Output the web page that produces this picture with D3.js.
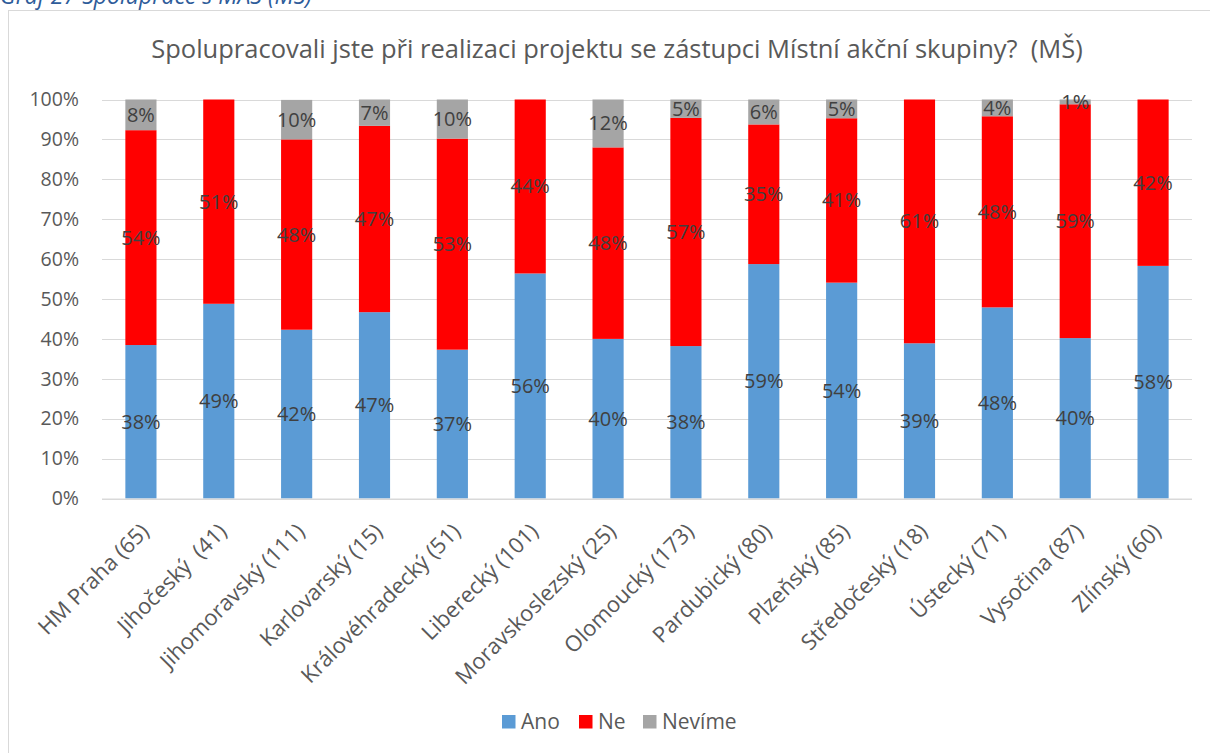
<!DOCTYPE html>
<html>
<head>
<meta charset="utf-8">
<script src="https://cdn.jsdelivr.net/npm/d3@7"></script>
<style>
html,body{margin:0;padding:0;background:#fff;}
svg{display:block;}
</style>
</head>
<body>
<svg id="chart" width="1210" height="753"></svg>
<script>
const categories = ["HM Praha (65)","Jihočeský  (41)","Jihomoravský (111)","Karlovarský (15)","Královéhradecký (51)","Liberecký (101)","Moravskoslezský (25)","Olomoucký (173)","Pardubický (80)","Plzeňský (85)","Středočeský (18)","Ústecký (71)","Vysočina (87)","Zlínský (60)"];
const ano    = [38.46, 48.8, 42.3, 46.7, 37.3, 56.4, 40.0, 38.2, 58.75, 54.1, 38.9, 47.9, 40.2, 58.3];
const ne     = [53.85, 51.2, 47.7, 46.7, 52.9, 43.6, 48.0, 57.2, 35.0, 41.2, 61.1, 47.9, 58.6, 41.7];
const nevime = [7.69, 0, 9.9, 6.6, 9.8, 0, 12.0, 4.6, 6.25, 4.7, 0, 4.2, 1.2, 0];
const seriesNames = ["Ano","Ne","Nevíme"];
const colors = ["#5B9BD5","#FF0000","#A5A5A5"];
const yTicks = [0,10,20,30,40,50,60,70,80,90,100];
const titleText = "Spolupracovali jste při realizaci projektu se zástupci Místní akční skupiny?  (MŠ)";
const captionText = "Graf 27 Spolupráce s MAS (MŠ)";

const FONT = "'Open Sans', 'DejaVu Sans', sans-serif";
const svg = d3.select("#chart");

// caption (cut at the top)
svg.append("text").attr("x", 0).attr("y", 4)
  .attr("font-family", FONT).attr("font-style", "italic")
  .attr("font-size", 23).attr("fill", "#2E5C9A").text(captionText);

// chart frame
svg.append("rect").attr("x", 8.5).attr("y", 10.5).attr("width", 1205).attr("height", 750)
  .attr("fill", "none").attr("stroke", "#D9D9D9").attr("stroke-width", 1);

// title
svg.append("text").attr("x", 617).attr("y", 58).attr("text-anchor", "middle")
  .style("white-space", "pre")
  .attr("font-family", FONT).attr("font-size", 25.5).attr("fill", "#595959").text(titleText);

const x = d3.scaleBand().domain(categories).range([102, 1192]).paddingInner(0.6).paddingOuter(0.3);
const y = d3.scaleLinear().domain([0, 100]).range([498.5, 99.5]);

// gridlines
svg.append("g").selectAll("line").data(yTicks).join("line")
  .attr("x1", 102).attr("x2", 1192)
  .attr("y1", d => Math.round(y(d)) + 0.5).attr("y2", d => Math.round(y(d)) + 0.5)
  .attr("stroke", "#D9D9D9").attr("stroke-width", 1.2);

// y axis labels
const yAxis = d3.axisLeft(y).tickValues(yTicks).tickFormat(d => d + "%").tickSize(0).tickPadding(0);
const gy = svg.append("g").attr("transform", "translate(79,0)").call(yAxis);
gy.select(".domain").remove();
gy.selectAll("text").attr("font-family", FONT).attr("font-size", 19.5).attr("fill", "#595959");

// stacked data
const rows = categories.map((c, i) => ({cat: c, Ano: ano[i], Ne: ne[i], "Nevíme": nevime[i]}));
const stack = d3.stack().keys(seriesNames)(rows);

const layers = svg.append("g").selectAll("g").data(stack).join("g")
  .attr("fill", (d, i) => colors[i]);
layers.selectAll("rect").data(d => d).join("rect")
  .attr("x", d => x(d.data.cat))
  .attr("width", x.bandwidth())
  .attr("y", d => y(d[1]))
  .attr("height", d => Math.max(0, y(d[0]) - y(d[1])));

// data labels
const labelsG = svg.append("g");
stack.forEach((layer, si) => {
  layer.forEach(d => {
    const v = d.data[layer.key];
    if (v <= 0) return;
    labelsG.append("text")
      .attr("x", x(d.data.cat) + x.bandwidth() / 2)
      .attr("y", y((d[0] + d[1]) / 2))
      .attr("dy", "0.35em")
      .attr("text-anchor", "middle")
      .attr("font-family", FONT).attr("font-size", 20).attr("fill", "#404040")
      .text(Math.round(v) + "%");
  });
});

// x axis labels
const xAxis = d3.axisBottom(x).tickSize(0).tickPadding(0);
const gx = svg.append("g").attr("transform", "translate(0,498.5)").call(xAxis);
gx.select(".domain").attr("stroke", "#D9D9D9").attr("stroke-width", 1.2).attr("d", "M102,0.5H1192");
gx.selectAll("text")
  .style("white-space", "pre")
  .attr("font-family", FONT).attr("font-size", 22).attr("fill", "#595959")
  .attr("text-anchor", "end")
  .attr("dy", null).attr("y", 0)
  .attr("transform", "translate(3,28) rotate(-45)")
  .attr("dominant-baseline", "central");

// legend
const legendItems = [{n:"Ano", c:colors[0], x:502},{n:"Ne", c:colors[1], x:579},{n:"Nevíme", c:colors[2], x:643}];
const lg = svg.append("g");
legendItems.forEach(it => {
  lg.append("rect").attr("x", it.x).attr("y", 715).attr("width", 13.5).attr("height", 13.5).attr("fill", it.c);
  lg.append("text").attr("x", it.x + 19).attr("y", 722).attr("dy", "0.35em")
    .attr("font-family", FONT).attr("font-size", 21).attr("fill", "#595959").text(it.n);
});
</script>
</body>
</html>
